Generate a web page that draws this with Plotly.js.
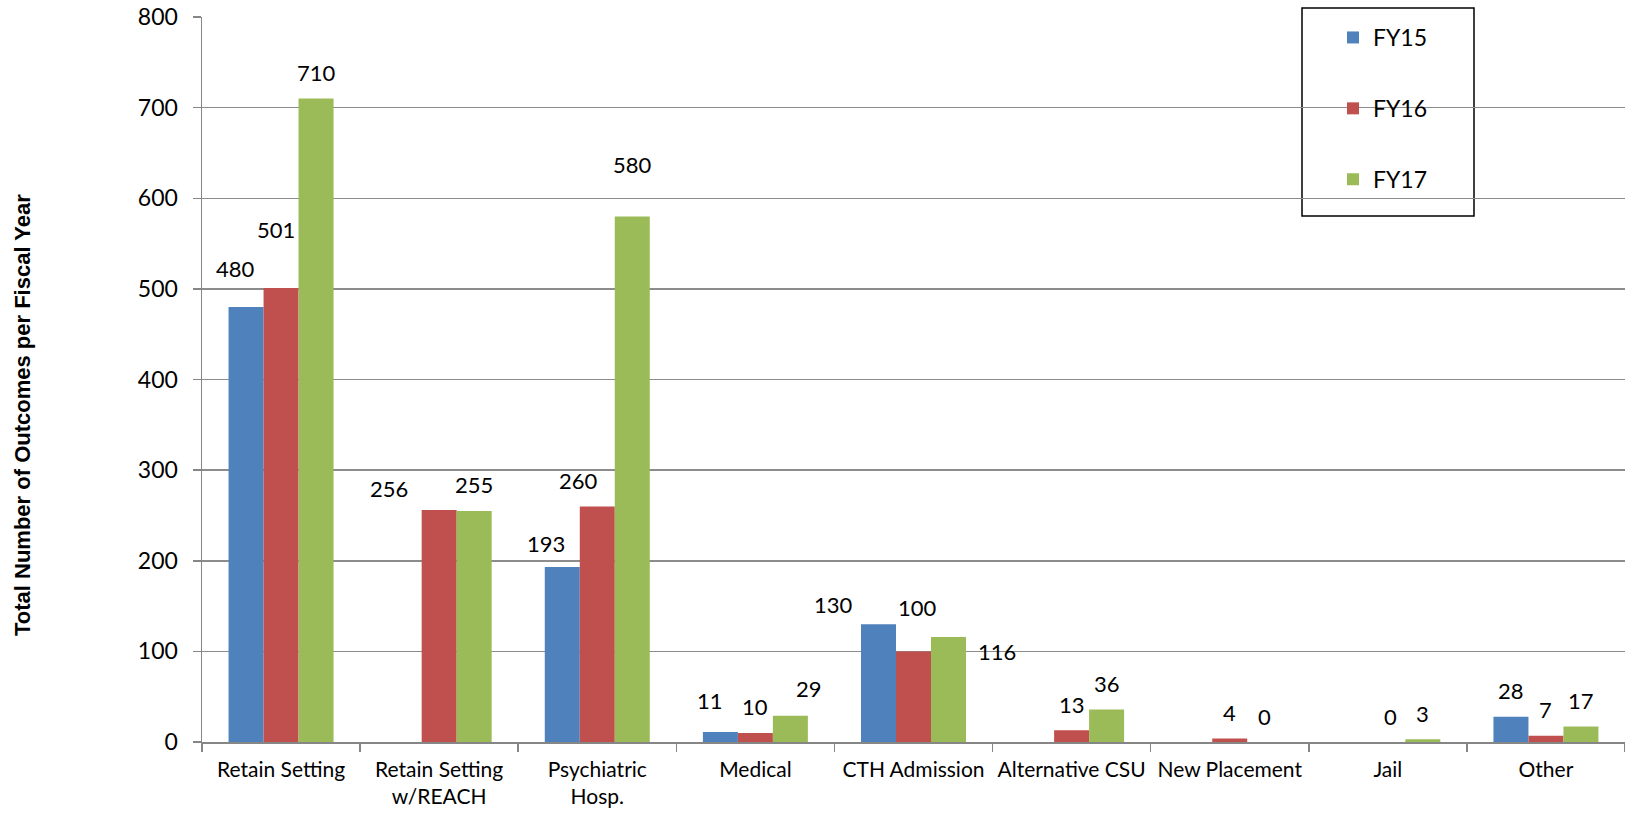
<!DOCTYPE html>
<html>
<head>
<meta charset="utf-8">
<script src="https://cdn.plot.ly/plotly-3.0.1.min.js"></script>
<style>
  html, body { margin: 0; padding: 0; background: #ffffff; }
  #chart { width: 1625px; height: 814px; }
</style>
</head>
<body>
<div id="chart"></div>
<script>
// ---- data ----
const categories = ["Retain Setting", "Retain Setting<br>w/REACH", "Psychiatric<br>Hosp.", "Medical",
                    "CTH Admission", "Alternative CSU", "New Placement", "Jail", "Other"];
const seriesNames = ["FY15", "FY16", "FY17"];
const fy15 = [480, null, 193, 11, 130, null, null, null, 28];
const fy16 = [501, 256, 260, 10, 100, 13, 4, 0, 7];
const fy17 = [710, 255, 580, 29, 116, 36, 0, 3, 17];
const yTicks = [0, 100, 200, 300, 400, 500, 600, 700, 800];

// ---- styling ----
const colors = ["#4F81BD", "#C0504D", "#9BBB59"];
const font = "Lato, 'Open Sans', sans-serif";
const plotW = 1423, nCat = categories.length, bargap = 0.336;
const barPx = (plotW / nCat) * (1 - bargap) / 3;
// manual label nudges (px, relative to bar top centre) as in the original
const defaultNudge = [0, -26];
const labelNudges = [
  {0: [-11, -39], 2: [-16, -24], 3: [-10, -32], 4: [-45, -20]},
  {0: [-5, -58], 1: [-50, -22], 2: [-19, -26], 4: [4, -44], 7: [3, -26]},
  {2: [0, -52], 3: [19, -27], 4: [49, 15]}
];

const allSeries = [fy15, fy16, fy17];
const traces = allSeries.map((vals, s) => ({
  type: "bar",
  name: seriesNames[s],
  x: categories,
  y: vals,
  marker: { color: colors[s], line: { width: 0 } },
  legendgroup: "g" + s,
  hoverinfo: "x+y+name"
}));

const annotations = [];
allSeries.forEach((vals, s) => {
  vals.forEach((v, i) => {
    if (v === null) return;
    const n = labelNudges[s][i] || defaultNudge;
    annotations.push({
      x: categories[i], xref: "x", y: v, yref: "y",
      xshift: (s - 1) * barPx + n[0], yshift: -n[1],
      text: String(v), showarrow: false,
      xanchor: "center", yanchor: "middle",
      font: { family: font, size: 22, color: "#000000" }
    });
  });
});

const layout = {
  width: 1625, height: 814,
  margin: { l: 202, r: 0, t: 17, b: 72 },
  paper_bgcolor: "#ffffff", plot_bgcolor: "#ffffff",
  barmode: "group", bargap: bargap, bargroupgap: 0,
  font: { family: font, size: 20, color: "#000000" },
  xaxis: {
    type: "category",
    tickson: "boundaries",
    ticks: "outside", ticklen: 8, tickcolor: "#868686", tickwidth: 1.5,
    ticklabelstandoff: 8, tickangle: 0,
    showline: true, linecolor: "#868686", linewidth: 1.5,
    showgrid: false, zeroline: false,
    tickfont: { family: font, size: 21, color: "#000000" },
    automargin: false,
    fixedrange: true
  },
  yaxis: {
    range: [0, 800], tickvals: yTicks, ticktext: yTicks.map(String),
    ticks: "outside", ticklen: 8, tickcolor: "#868686", tickwidth: 1.5,
    ticklabelstandoff: 10,
    showline: true, linecolor: "#868686", linewidth: 1.5,
    showgrid: true, gridcolor: "#8c8c8c", gridwidth: 1.5,
    zeroline: false,
    tickfont: { family: font, size: 23, color: "#000000" },
    automargin: false,
    fixedrange: true
  },
  showlegend: true,
  legend: {
    x: (1333 - 202) / plotW, xanchor: "left",
    y: (742 - 16) / 725, yanchor: "top",
    bgcolor: "rgba(0,0,0,0)", borderwidth: 0,
    traceorder: "grouped", tracegroupgap: 38,
    font: { family: font, size: 23, color: "#000000" }
  },
  shapes: [{
    type: "rect", xref: "paper", yref: "paper",
    x0: (1302 - 202) / plotW, x1: (1474 - 202) / plotW,
    y0: (742 - 216) / 725, y1: (742 - 8) / 725,
    line: { color: "#000000", width: 1.5 }, fillcolor: "#ffffff", layer: "below"
  }],
  annotations: annotations.concat([{
    text: "<b>Total Number of Outcomes per Fiscal Year</b>",
    xref: "paper", yref: "paper",
    x: (22 - 202) / plotW, y: (742 - 415) / 725,
    xanchor: "center", yanchor: "middle", textangle: -90, showarrow: false,
    font: { family: "'Liberation Sans', Arial, sans-serif", size: 22, color: "#000000" }
  }])
};

Plotly.newPlot("chart", traces, layout, { displayModeBar: false, staticPlot: true });
</script>
</body>
</html>
